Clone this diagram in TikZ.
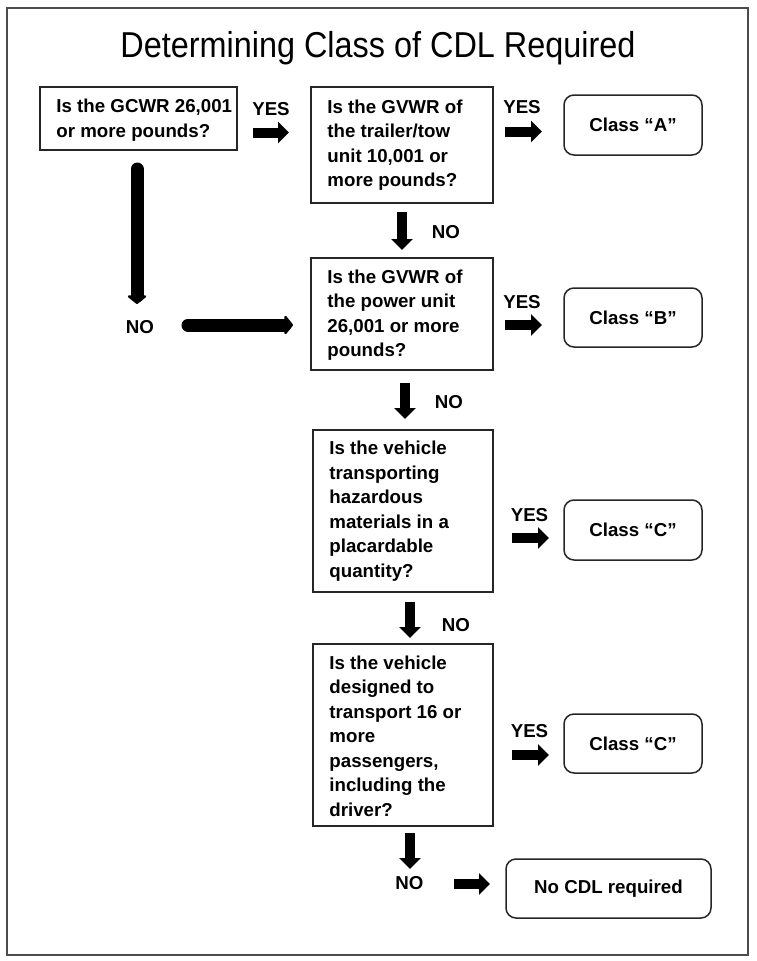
\documentclass[tikz,border=0pt]{standalone}
\usepackage{fontspec}
\setmainfont{Liberation Sans}
\usetikzlibrary{arrows.meta}
\newcommand\qfont{\fontsize{18.7}{24.5}\selectfont\bfseries}
\begin{document}
\begin{tikzpicture}[x=1pt,y=-1pt,
  qbox/.style={draw=black!85, line width=1.5pt, rectangle, inner sep=0pt},
  cbox/.style={draw=black!85, line width=1.5pt, rectangle, rounded corners=10pt, inner sep=0pt, font=\qfont},
  qtext/.style={align=left, inner sep=0pt, font=\qfont, anchor=west},
  lab/.style={font=\qfont, inner sep=0pt},
  blk/.style={line width=10pt, -{Triangle[length=11pt,width=21pt]}},
  big/.style={line width=13pt, line cap=round, -{Triangle[length=9pt,width=22pt,round]}}]
\useasboundingbox (0,0) rectangle (756,961);
\draw[draw=black!70, line width=1.2pt] (7,8) rectangle (748,955);

\node[font=\fontsize{36}{40}\selectfont, inner sep=0pt] (title) at (378,48) {\scalebox{0.9}[1]{Determining Class of CDL Required}};

% question boxes
\node[qbox, minimum width=197pt, minimum height=63pt] (b1) at (138.5,118.5) {};
\node[qtext] (t1) at ([xshift=17pt,yshift=-1.5pt]b1.west) {Is the GCWR 26,001\\or more pounds?};
\node[qbox, minimum width=182pt, minimum height=116pt] (b2) at (402,145) {};
\node[qtext] (t2) at ([xshift=17pt]b2.west) {Is the GVWR of\\the trailer/tow\\unit 10,001 or\\more pounds?};
\node[qbox, minimum width=182pt, minimum height=112pt] (b3) at (402,314) {};
\node[qtext] (t3) at ([xshift=17pt,yshift=-1pt]b3.west) {Is the GVWR of\\the power unit\\26,001 or more\\pounds?};
\node[qbox, minimum width=180pt, minimum height=162pt] (b4) at (403,511) {};
\node[qtext] (t4) at ([xshift=17pt]b4.west) {Is the vehicle\\transporting\\hazardous\\materials in a\\placardable\\quantity?};
\node[qbox, minimum width=180pt, minimum height=182pt] (b5) at (403,735) {};
\node[qtext] (t5) at ([xshift=17pt,yshift=-1pt]b5.west) {Is the vehicle\\designed to\\transport 16 or\\more\\passengers,\\including the\\driver?};

% result boxes
\node[cbox, minimum width=138pt, minimum height=60pt] (cA) at (633,125) {Class \textquotedblleft A\textquotedblright};
\node[cbox, minimum width=138pt, minimum height=59pt] (cB) at (633,317.5) {Class \textquotedblleft B\textquotedblright};
\node[cbox, minimum width=138pt, minimum height=60pt] (cC1) at (633,530) {Class \textquotedblleft C\textquotedblright};
\node[cbox, minimum width=138pt, minimum height=59pt] (cC2) at (633,743.5) {Class \textquotedblleft C\textquotedblright};
\node[cbox, minimum width=205pt, minimum height=59pt] (nc) at (608.5,888.5) {No CDL required};

% labels
\node[lab] (y1) at (271,109) {YES};
\node[lab] (y2) at (522,107) {YES};
\node[lab] (y3) at (522,302) {YES};
\node[lab] (y4) at (529.5,515) {YES};
\node[lab] (y5) at (529.5,731) {YES};
\node[lab] (n1) at (446,232) {NO};
\node[lab] (n2) at (449,402) {NO};
\node[lab] (n3) at (456,625) {NO};
\node[lab] (n4) at (409.5,883) {NO};
\node[lab] (n0) at (140,327) {NO};

% arrow end points
\coordinate (a1s) at (253,132.5); \coordinate (a1e) at (289,132.5);
\coordinate (a2s) at (505,131.5); \coordinate (a2e) at (542,131.5);
\coordinate (a3s) at (505,325);   \coordinate (a3e) at (542,325);
\coordinate (a4s) at (512,538);   \coordinate (a4e) at (549,538);
\coordinate (a5s) at (512,755);   \coordinate (a5e) at (549,755);
\coordinate (a6s) at (454,884);   \coordinate (a6e) at (490,884);
\coordinate (d1s) at (402,212);   \coordinate (d1e) at (402,250);
\coordinate (d2s) at (405,383);   \coordinate (d2e) at (405,419);
\coordinate (d3s) at (410,602);   \coordinate (d3e) at (410,638);
\coordinate (d4s) at (410,833);   \coordinate (d4e) at (410,869);
\coordinate (L1s) at (137,169);   \coordinate (L1e) at (137,304);
\coordinate (L2s) at (188,325);   \coordinate (L2e) at (293,325);

\draw[blk] (a1s) -- (a1e);
\draw[blk] (a2s) -- (a2e);
\draw[blk] (a3s) -- (a3e);
\draw[blk] (a4s) -- (a4e);
\draw[blk] (a5s) -- (a5e);
\draw[blk] (a6s) -- (a6e);
\draw[blk] (d1s) -- (d1e);
\draw[blk] (d2s) -- (d2e);
\draw[blk] (d3s) -- (d3e);
\draw[blk] (d4s) -- (d4e);
\draw[big] (L1s) -- (L1e);
\draw[big] (L2s) -- (L2e);
\end{tikzpicture}
\end{document}
